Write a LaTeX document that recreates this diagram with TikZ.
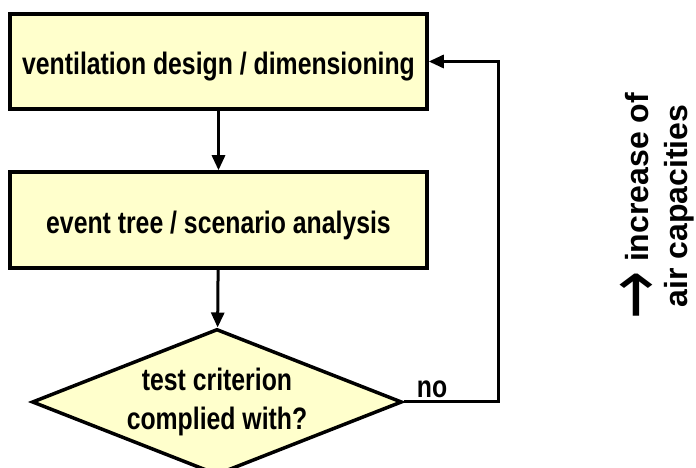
\documentclass[tikz,border=0pt]{standalone}
\usepackage{fontspec}
\setmainfont{Liberation Sans}
\newfontfamily\narrowfont[FakeStretch=0.8]{Liberation Sans}
\newfontfamily\arrowfont{DejaVu Sans}
\usetikzlibrary{shapes.geometric,arrows.meta}
\definecolor{paleyellow}{RGB}{255,255,204}
\begin{document}
\begin{tikzpicture}[x=1pt,y=1pt,
  box/.style={draw,line width=3.5pt,fill=paleyellow,inner sep=0pt,
    font=\narrowfont\bfseries\fontsize{31}{39}\selectfont},
  stepbox/.style={box,minimum width=417pt,text height=30pt,text depth=3pt},
  flow/.style={line width=3pt,-{Triangle[length=15pt,width=13pt]}}]
  \clip (0,0) rectangle (696,468);
  \node[stepbox,minimum height=95pt] (design) at (218.5,406.5) {ventilation design / dimensioning};
  \node[stepbox,minimum height=96pt] (events) at (218.5,248) {event tree / scenario analysis};
  \node[box,diamond,aspect=2.53,minimum width=370pt,minimum height=146pt,align=center] (test) at (217,66)
    {test criterion\\complied with?};
  \coordinate (back) at (498,406.5);
  \draw[flow] (design) -- (events);
  \draw[flow] (events) -- (test);
  \draw[flow] (test.east) -- node[above,pos=0.3,inner sep=3pt,font=\narrowfont\bfseries\fontsize{31}{39}\selectfont] (no) {no}
    (test.east -| back) -- (back) -- (design.east);
  \node[rotate=90,align=center,font=\bfseries\fontsize{32}{39}\selectfont] (more) at (657,262)
    {\raisebox{\dimexpr 9pt-0.5\height\relax}{\scalebox{1.8}[2.4]{\arrowfont\mdseries →}} increase of\\air capacities};
\end{tikzpicture}
\end{document}
